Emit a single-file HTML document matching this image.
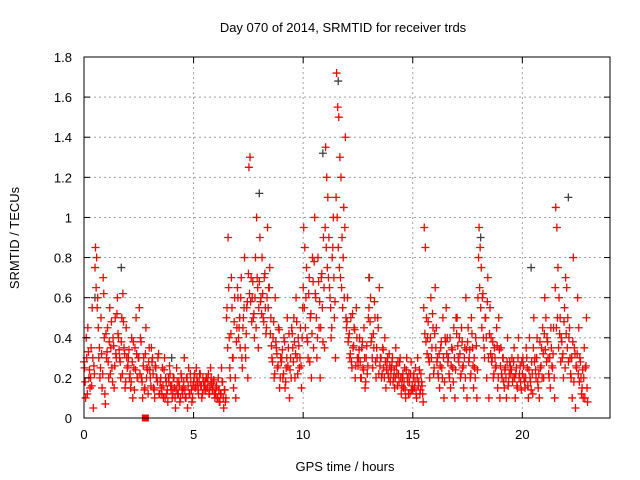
<!DOCTYPE html>
<html><head><meta charset="utf-8"><style>
body{margin:0;background:#fff;}
svg{display:block;font-family:"Liberation Sans",sans-serif;}
</style></head><body>
<svg id="chart" width="640" height="480" xmlns="http://www.w3.org/2000/svg">
<rect width="640" height="480" fill="#fff"/>
<text x="343" y="32" font-size="13" text-anchor="middle">Day 070 of 2014, SRMTID for receiver trds</text>
<text x="345" y="471" font-size="13" text-anchor="middle">GPS time / hours</text>
<text x="19" y="238" font-size="13" text-anchor="middle" transform="rotate(-90 19 238)">SRMTID / TECUs</text>
<g id="grid"></g><g id="gray"></g><g id="red"></g><g id="axes"></g>
</svg>
<script>
const xTicks=[0,5,10,15,20];
const yTicks=[0,0.2,0.4,0.6,0.8,1,1.2,1.4,1.6,1.8];
const yTickLabels=["0","0.2","0.4","0.6","0.8","1","1.2","1.4","1.6","1.8"];
const binStarts=[0,0.5,1,1.5,2,2.5,3,3.5,4,4.5,5,5.5,6,6.5,7,7.5,8,8.5,9,9.5,10,10.5,11,11.5,12,12.5,13,13.5,14,14.5,15,15.5,16,16.5,17,17.5,18,18.5,19,19.5,20,20.5,21,21.5,22,22.5];
const redValues=[
[0.25,0.1,0.3,0.45,0.2,0.15,0.35,0.55,0.05,0.22],
[0.85,0.8,0.6,0.3,0.2,0.5,0.15,0.7,0.4,0.07],
[0.3,0.45,0.2,0.55,0.35,0.25,0.4,0.15,0.5,0.3],
[0.6,0.4,0.3,0.2,0.5,0.62,0.35,0.15,0.45,0.25],
[0.3,0.2,0.15,0.4,0.1,0.25,0.35,0.5,0.2,0.3],
[0.55,0.4,0.2,0.1,0.3,0.15,0.45,0.25,0.12,0.35],
[0.2,0.35,0.3,0.15,0.1,0.25,0.2,0.3,0.12,0.18],
[0.15,0.25,0.1,0.3,0.2,0.12,0.08,0.18,0.22,0.14],
[0.1,0.2,0.15,0.05,0.25,0.12,0.18,0.08,0.22,0.14],
[0.15,0.3,0.1,0.2,0.05,0.25,0.12,0.18,0.08,0.16],
[0.2,0.15,0.25,0.18,0.12,0.22,0.16,0.1,0.2,0.14],
[0.18,0.2,0.15,0.22,0.12,0.25,0.17,0.14,0.19,0.1],
[0.15,0.1,0.2,0.08,0.12,0.25,0.18,0.05,0.14,0.1],
[0.55,0.9,0.4,0.2,0.7,0.3,0.15,0.6,0.1,0.45],
[0.6,0.45,0.35,0.7,0.25,0.5,0.8,0.3,0.55,0.2],
[1.25,1.3,0.7,0.6,0.5,0.4,0.8,1.0,0.65,0.55],
[0.9,0.6,0.8,0.5,0.7,0.55,0.45,0.95,0.65,0.75],
[0.5,0.3,0.4,0.2,0.6,0.35,0.25,0.45,0.15,0.3],
[0.3,0.2,0.4,0.15,0.25,0.5,0.35,0.1,0.3,0.45],
[0.35,0.5,0.2,0.6,0.3,0.4,0.25,0.45,0.15,0.55],
[0.95,0.85,0.6,0.4,0.3,0.7,0.5,0.2,0.8,0.35],
[1.0,0.6,0.3,0.8,0.45,0.2,0.7,0.55,0.9,0.35],
[1.35,1.2,1.1,0.9,0.6,0.4,0.8,1.0,0.5,0.3],
[1.72,1.55,1.5,1.3,1.2,0.9,0.8,0.6,1.4,0.45],
[0.6,0.4,0.3,0.5,0.25,0.35,0.45,0.2,0.55,0.3],
[0.3,0.4,0.2,0.35,0.25,0.45,0.15,0.3,0.22,0.5],
[0.7,0.6,0.4,0.25,0.35,0.5,0.2,0.3,0.45,0.65],
[0.3,0.2,0.35,0.25,0.4,0.15,0.28,0.22,0.32,0.18],
[0.25,0.3,0.2,0.15,0.35,0.22,0.28,0.18,0.3,0.12],
[0.2,0.15,0.25,0.1,0.3,0.18,0.22,0.12,0.28,0.16],
[0.2,0.15,0.25,0.1,0.3,0.18,0.12,0.22,0.16,0.08],
[0.95,0.85,0.5,0.4,0.3,0.2,0.6,0.35,0.45,0.25],
[0.65,0.45,0.3,0.2,0.15,0.35,0.25,0.5,0.1,0.4],
[0.55,0.4,0.3,0.2,0.15,0.35,0.25,0.45,0.1,0.5],
[0.5,0.3,0.4,0.2,0.45,0.25,0.15,0.35,0.6,0.1],
[0.45,0.3,0.2,0.5,0.35,0.15,0.25,0.4,0.1,0.6],
[0.95,0.85,0.75,0.6,0.4,0.3,0.5,0.2,0.7,0.1],
[0.55,0.4,0.3,0.2,0.35,0.25,0.45,0.15,0.5,0.1],
[0.35,0.2,0.3,0.15,0.25,0.1,0.4,0.18,0.28,0.22],
[0.3,0.2,0.35,0.1,0.25,0.15,0.4,0.22,0.18,0.28],
[0.3,0.2,0.15,0.35,0.25,0.1,0.4,0.18,0.28,0.12],
[0.5,0.3,0.2,0.4,0.15,0.1,0.25,0.35,0.45,0.2],
[0.6,0.5,0.4,0.3,0.2,0.15,0.35,0.25,0.45,0.1],
[1.05,0.95,0.75,0.6,0.5,0.4,0.3,0.2,0.55,0.7],
[0.65,0.5,0.4,0.3,0.2,0.1,0.8,0.35,0.05,0.25],
[0.6,0.45,0.3,0.2,0.15,0.1,0.35,0.25,0.5,0.08]];
const redValuesB=[
[0.28,0.18,0.4,0.12,0.33,0.24,0.2,0.16,0.3,0.26],
[0.75,0.65,0.55,0.45,0.35,0.25,0.32,0.22,0.62,0.12],
[0.42,0.33,0.28,0.38,0.22,0.48,0.18,0.36,0.26,0.32],
[0.52,0.42,0.34,0.28,0.38,0.22,0.48,0.32,0.18,0.3],
[0.26,0.34,0.22,0.18,0.28,0.38,0.14,0.24,0.32,0.2],
[0.3,0.22,0.38,0.18,0.26,0.14,0.32,0.2,0.24,0.28],
[0.24,0.16,0.28,0.22,0.14,0.26,0.2,0.18,0.32,0.12],
[0.2,0.12,0.16,0.24,0.1,0.18,0.14,0.2,0.26,0.16],
[0.16,0.12,0.2,0.1,0.14,0.18,0.12,0.16,0.1,0.2],
[0.12,0.18,0.14,0.1,0.2,0.16,0.12,0.22,0.14,0.1],
[0.18,0.22,0.16,0.2,0.14,0.18,0.22,0.16,0.12,0.18],
[0.16,0.14,0.2,0.18,0.12,0.16,0.2,0.14,0.18,0.12],
[0.12,0.16,0.1,0.14,0.08,0.12,0.18,0.1,0.14,0.08],
[0.5,0.35,0.65,0.25,0.42,0.55,0.3,0.48,0.2,0.38],
[0.65,0.4,0.5,0.6,0.3,0.45,0.55,0.35,0.42,0.58],
[0.72,0.62,0.58,0.48,0.68,0.52,0.6,0.45,0.7,0.35],
[0.68,0.58,0.52,0.62,0.48,0.72,0.42,0.6,0.55,0.65],
[0.42,0.36,0.28,0.48,0.22,0.38,0.32,0.26,0.44,0.2],
[0.28,0.34,0.22,0.38,0.18,0.3,0.26,0.42,0.24,0.2],
[0.42,0.28,0.38,0.32,0.48,0.22,0.36,0.3,0.26,0.4],
[0.65,0.55,0.45,0.75,0.38,0.62,0.28,0.52,0.42,0.68],
[0.78,0.62,0.5,0.4,0.68,0.58,0.45,0.72,0.38,0.65],
[0.95,0.85,0.75,0.7,0.65,0.55,0.45,0.85,0.7,0.58],
[1.1,1.0,0.85,0.75,0.7,0.65,0.55,1.05,0.95,0.5],
[0.48,0.38,0.42,0.32,0.28,0.52,0.36,0.44,0.26,0.4],
[0.26,0.34,0.28,0.2,0.38,0.24,0.3,0.18,0.36,0.26],
[0.55,0.48,0.38,0.3,0.42,0.58,0.28,0.35,0.5,0.22],
[0.26,0.3,0.22,0.34,0.2,0.28,0.24,0.3,0.2,0.26],
[0.22,0.28,0.18,0.24,0.2,0.26,0.16,0.22,0.28,0.2],
[0.16,0.22,0.18,0.14,0.24,0.2,0.12,0.18,0.22,0.14],
[0.14,0.22,0.18,0.12,0.2,0.16,0.24,0.14,0.18,0.12],
[0.55,0.42,0.38,0.32,0.48,0.28,0.4,0.3,0.52,0.22],
[0.42,0.35,0.28,0.22,0.32,0.26,0.38,0.2,0.3,0.18],
[0.38,0.32,0.28,0.22,0.4,0.26,0.34,0.18,0.3,0.24],
[0.42,0.36,0.28,0.32,0.22,0.38,0.26,0.3,0.2,0.34],
[0.38,0.28,0.34,0.22,0.42,0.26,0.3,0.2,0.36,0.24],
[0.8,0.65,0.55,0.45,0.62,0.35,0.5,0.4,0.58,0.3],
[0.42,0.32,0.28,0.38,0.22,0.3,0.26,0.36,0.2,0.34],
[0.26,0.22,0.3,0.18,0.24,0.2,0.28,0.16,0.22,0.26],
[0.24,0.18,0.28,0.2,0.22,0.16,0.3,0.2,0.26,0.14],
[0.22,0.26,0.18,0.2,0.3,0.16,0.24,0.2,0.14,0.22],
[0.35,0.28,0.24,0.3,0.18,0.22,0.38,0.26,0.2,0.32],
[0.42,0.34,0.28,0.38,0.22,0.3,0.45,0.26,0.32,0.2],
[0.65,0.45,0.5,0.35,0.42,0.28,0.38,0.32,0.48,0.25],
[0.42,0.35,0.28,0.45,0.22,0.3,0.38,0.18,0.32,0.26],
[0.32,0.22,0.18,0.28,0.12,0.24,0.2,0.1,0.26,0.15]];
const grayTimes=[0.5,1.7,4.0,8.0,11.6,13.0,18.1,20.4,22.1,10.9,7.1];
const grayValues=[0.6,0.75,0.3,1.12,1.68,0.7,0.9,0.75,1.1,1.32,0.5];
const squareTimes=[2.8];
const squareValues=[0];

const NS="http://www.w3.org/2000/svg";
const L=84,R=610,T=57,B=418,XMAX=24,YMAX=1.8;
const xs=v=>L+v/XMAX*(R-L), ys=v=>B-v/YMAX*(B-T);
function mk(tag,attrs,parent){const e=document.createElementNS(NS,tag);for(const k in attrs)e.setAttribute(k,attrs[k]);parent.appendChild(e);return e;}
const grid=document.getElementById('grid'),axes=document.getElementById('axes');
xTicks.forEach(t=>{
 if(t>0){const g=mk('line',{x1:xs(t),x2:xs(t),y1:T,y2:B,stroke:'#a0a0a0','stroke-dasharray':'2,3'},grid);
 
 }
 mk('line',{x1:xs(t),x2:xs(t),y1:B,y2:B-6,stroke:'#000'},axes);
 mk('line',{x1:xs(t),x2:xs(t),y1:T,y2:T+6,stroke:'#000'},axes);
 const lb=mk('text',{x:xs(t),y:B+21,'font-size':13,'text-anchor':'middle'},axes);lb.textContent=t;
 
 
});
yTicks.forEach((t,i)=>{
 if(t>0&&t<1.8){const g=mk('line',{x1:L,x2:R,y1:ys(t),y2:ys(t),stroke:'#a0a0a0','stroke-dasharray':'2,3'},grid);
 
 }
 mk('line',{x1:L,x2:L+6,y1:ys(t),y2:ys(t),stroke:'#000'},axes);
 mk('line',{x1:R,x2:R-6,y1:ys(t),y2:ys(t),stroke:'#000'},axes);
 const lb=mk('text',{x:L-12,y:ys(t)+5,'font-size':13,'text-anchor':'end'},axes);lb.textContent=yTickLabels[i];
 
 
});
const fr=mk('rect',{x:L,y:T,width:R-L,height:B-T,fill:'none',stroke:'#000'},axes);


function plus(x,y,col,parent){return mk('path',{d:`M${x-4},${y}h8M${x},${y-4}v8`,stroke:col,'stroke-width':1.3,fill:'none'},parent);}
const gray=document.getElementById('gray'),red=document.getElementById('red');
grayTimes.forEach((t,i)=>{const p=plus(xs(t),ys(grayValues[i]),'#404040',gray);
 
 });
function drawBins(arr,offset){
 binStarts.forEach((b,i)=>{const vals=arr[i];vals.forEach((v,j)=>{
  const t=b+(j+offset)*0.5/vals.length;
  const p=plus(xs(t),ys(v),'#ff0000',red);
  
  });});
}
drawBins(redValues,0.5);
drawBins(redValuesB,0.05);
squareTimes.forEach((t,i)=>{const s=mk('rect',{x:xs(t)-3.5,y:ys(squareValues[i])-3.5,width:7,height:7,fill:'#ff0000'},red);
 
 });
</script>
</body></html>
